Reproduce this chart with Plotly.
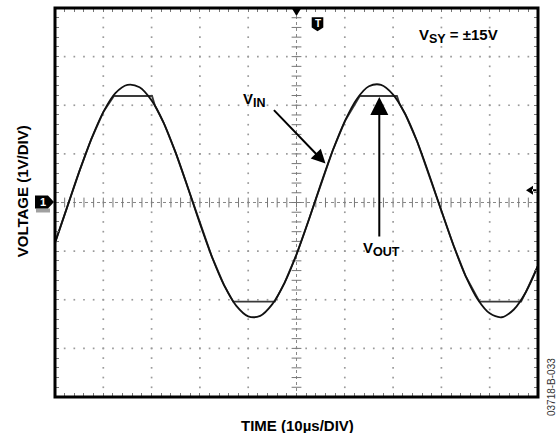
import numpy as np
import plotly.graph_objects as go

# Time axis in divisions (10 us/DIV), voltage in volts (1 V/DIV)
t_in = [0.0, 0.25, 0.5, 0.75, 1.0, 1.25, 1.5, 1.75, 2.0, 2.25, 2.5, 2.75, 3.0, 3.25,
        3.5, 3.75, 4.0, 4.25, 4.5, 4.75, 5.0, 5.25, 5.5, 5.75, 6.0, 6.25, 6.5, 6.75,
        7.0, 7.25, 7.5, 7.75, 8.0, 8.25, 8.5, 8.75, 9.0, 9.25, 9.5, 9.75, 10.0]
v_in = [-0.83, -0.10, 0.63, 1.30, 1.86, 2.25, 2.42, 2.37, 2.10, 1.64, 1.02, 0.31,
        -0.43, -1.12, -1.70, -2.12, -2.34, -2.33, -2.09, -1.66, -1.07, -0.37, 0.37,
        1.07, 1.67, 2.13, 2.39, 2.42, 2.22, 1.82, 1.25, 0.56, -0.17, -0.88, -1.51,
        -1.99, -2.28, -2.36, -2.20, -1.84, -1.30]

t_out = [0.0, 0.25, 0.5, 0.75, 1.0, 1.22, 1.6, 2.01, 2.07, 2.25, 2.5, 2.75, 3.0, 3.25,
         3.5, 3.69, 4.12, 4.55, 4.75, 5.0, 5.25, 5.5, 5.75, 6.0, 6.31, 6.7, 7.08, 7.13,
         7.25, 7.5, 7.75, 8.0, 8.25, 8.5, 8.79, 9.22, 9.65, 9.75, 10.0]
v_out = [-0.83, -0.10, 0.63, 1.30, 1.86, 2.19, 2.19, 2.19, 1.99, 1.64, 1.02, 0.31,
         -0.43, -1.12, -1.70, -2.04, -2.04, -2.04, -1.66, -1.07, -0.37, 0.37, 1.07,
         1.67, 2.19, 2.19, 2.19, 2.04, 1.82, 1.25, 0.56, -0.17, -0.88, -1.51, -2.04,
         -2.04, -2.04, -1.84, -1.30]

FONT = "Arial, Liberation Sans, Helvetica, sans-serif"
N_XDIV, N_YDIV = 10, 8
SUB = 5  # minor steps per division


def label(main, sub, rest="", sub_px=12):
    """Bold label with a large subscript."""
    return (f"<b>{main}<sub><span style=\"font-size:{sub_px}px\">{sub}</span></sub>"
            f"{rest}</b>")


fig = go.Figure()

# graticule: dotted division lines made of dots at every minor step
gx, gy = [], []
for xd in range(1, N_XDIV):
    if xd == N_XDIV // 2:
        continue
    for k in range(1, N_YDIV * SUB):
        gx.append(xd)
        gy.append(-N_YDIV / 2 + k / SUB)
for yd in range(-N_YDIV // 2 + 1, N_YDIV // 2):
    if yd == 0:
        continue
    for k in range(1, N_XDIV * SUB):
        gx.append(k / SUB)
        gy.append(yd)
fig.add_trace(go.Scatter(x=gx, y=gy, mode="markers", hoverinfo="skip",
                         marker=dict(symbol="square", size=1.7, color="#9a9a9a",
                                     line=dict(width=0))))

# minor tick marks on the centre axes
cx = [k / SUB for k in range(1, N_XDIV * SUB)]
fig.add_trace(go.Scatter(x=cx, y=[0] * len(cx), mode="markers", hoverinfo="skip",
                         marker=dict(symbol="line-ns", size=7,
                                     line=dict(width=1, color="#777"))))
cy = [-N_YDIV / 2 + k / SUB for k in range(1, N_YDIV * SUB)]
fig.add_trace(go.Scatter(x=[N_XDIV / 2] * len(cy), y=cy, mode="markers", hoverinfo="skip",
                         marker=dict(symbol="line-ew", size=7,
                                     line=dict(width=1, color="#777"))))

# waveforms
fig.add_trace(go.Scatter(x=t_out, y=v_out, mode="lines", name="VOUT",
                         line=dict(color="#3a3a3a", width=1.8, shape="linear")))
fig.add_trace(go.Scatter(x=t_in, y=v_in, mode="lines", name="VIN",
                         line=dict(color="#111111", width=1.8, shape="spline",
                                   smoothing=1.0)))

shapes = [
    # centre cross-hair
    dict(type="line", xref="x", yref="y", x0=0, x1=N_XDIV, y0=0, y1=0,
         line=dict(color="#888", width=1, dash="dot"), layer="below"),
    dict(type="line", xref="x", yref="y", x0=N_XDIV / 2, x1=N_XDIV / 2,
         y0=-N_YDIV / 2, y1=N_YDIV / 2,
         line=dict(color="#888", width=1, dash="dot"), layer="below"),
    # outer frame
    dict(type="rect", xref="paper", yref="paper", x0=0, x1=1, y0=0, y1=1,
         line=dict(color="black", width=3), layer="above"),
    # channel 1 ground marker (shadow, then body)
    dict(type="path", xref="paper", yref="paper", xsizemode="pixel", ysizemode="pixel",
         xanchor=0, yanchor=0.5, path="M -19,-6 L -5,-6 L -5,-10 L -19,-10 Z",
         fillcolor="#a0a0a0", line=dict(width=0), layer="above"),
    dict(type="path", xref="paper", yref="paper", xsizemode="pixel", ysizemode="pixel",
         xanchor=0, yanchor=0.5,
         path="M -20,7 L -7,7 L -1,0.5 L -7,-6 L -20,-6 Z",
         fillcolor="black", line=dict(width=0), layer="above"),
    # trigger position marker on top edge
    dict(type="path", xref="paper", yref="paper", xsizemode="pixel", ysizemode="pixel",
         xanchor=0.5, yanchor=1, path="M -5.5,1 L 5.5,1 L 0,-8 Z",
         fillcolor="black", line=dict(width=0), layer="above"),
    # trigger "T" badge
    dict(type="path", xref="paper", yref="paper", xsizemode="pixel", ysizemode="pixel",
         xanchor=0.5435, yanchor=1,
         path="M -5.8,-9.2 L 5.8,-9.2 L 5.8,-19.5 L 0,-23.2 L -5.8,-19.5 Z",
         fillcolor="black", line=dict(width=0), layer="above"),
    # trigger level arrow on right edge
    dict(type="path", xref="paper", yref="paper", xsizemode="pixel", ysizemode="pixel",
         xanchor=1, yanchor=0.5315,
         path="M -12,0 L -5,4.5 L -5,-4.5 Z M -6,-1 L -1.5,-1 L -1.5,1 L -6,1 Z",
         fillcolor="black", line=dict(width=0), layer="above"),
]

annotations = [
    dict(xref="paper", yref="paper", x=0, y=0.5, xanchor="center", yanchor="middle",
         xshift=-12, yshift=0.5, text="<b>1</b>", showarrow=False,
         font=dict(family=FONT, size=11, color="white")),
    dict(xref="paper", yref="paper", x=0.5435, y=1, xanchor="center", yanchor="middle",
         yshift=-15, text="<b>T</b>", showarrow=False,
         font=dict(family=FONT, size=10, color="white")),
    dict(xref="x", yref="y", x=8.36, y=3.43, xanchor="center", yanchor="middle",
         text=label("V", "SY", " = ±15V", 12.5), showarrow=False,
         font=dict(family=FONT, size=15, color="black")),
    dict(xref="x", yref="y", x=4.12, y=2.1, xanchor="center", yanchor="middle",
         text=label("V", "IN", "", 12.5), showarrow=False,
         font=dict(family=FONT, size=15, color="black")),
    dict(xref="x", yref="y", x=6.77, y=-0.95, xanchor="center", yanchor="middle",
         text=label("V", "OUT", "", 12.5), showarrow=False,
         font=dict(family=FONT, size=15, color="black")),
    # arrows
    dict(xref="x", yref="y", x=5.6, y=0.8, ax=-53, ay=-55, text="", showarrow=True,
         arrowhead=2, arrowsize=1.4, arrowwidth=2, arrowcolor="black", standoff=0),
    dict(xref="x", yref="y", x=6.714, y=2.17, ax=0, ay=141, text="", showarrow=True,
         arrowhead=2, arrowsize=1.8, arrowwidth=2, arrowcolor="black", standoff=0),
    # axis titles and figure id
    dict(xref="paper", yref="paper", x=0.503, y=-0.0732, xanchor="center",
         yanchor="middle", text="<b>TIME (10µs/DIV)</b>", showarrow=False,
         font=dict(family=FONT, size=15, color="black")),
    dict(xref="paper", yref="paper", x=-0.0683, y=0.529, xanchor="center",
         yanchor="middle", text="<b>VOLTAGE (1V/DIV)</b>", showarrow=False,
         textangle=-90, font=dict(family=FONT, size=15, color="black")),
    dict(xref="paper", yref="paper", x=1.027, y=0.0257, xanchor="center",
         yanchor="middle", text="03718-B-033", showarrow=False,
         textangle=-90, font=dict(family=FONT, size=10, color="#333")),
]

axis_common = dict(showgrid=False, zeroline=False, showticklabels=False,
                   ticks="inside", ticklen=4, tickwidth=1, tickcolor="#777",
                   showline=True, linecolor="black", linewidth=1, mirror="ticks",
                   fixedrange=True)

fig.update_layout(
    width=556, height=433,
    margin=dict(l=55, r=18, t=7.5, b=36, pad=0),
    paper_bgcolor="white", plot_bgcolor="white",
    showlegend=False,
    xaxis=dict(range=[0, N_XDIV], dtick=1 / SUB, tick0=0, **axis_common),
    yaxis=dict(range=[-N_YDIV / 2, N_YDIV / 2], dtick=1 / SUB, tick0=0, **axis_common),
    shapes=shapes,
    annotations=annotations,
)

fig.write_html("out.html")
